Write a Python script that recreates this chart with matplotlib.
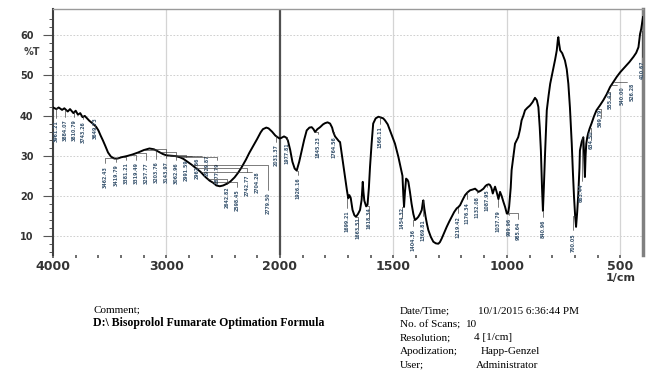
import numpy as np
import matplotlib.pyplot as plt

# spectrum (wavenumber in 1/cm, %T)
wavenumber = [4000, 3970, 3950, 3920, 3900, 3870, 3850, 3820, 3800, 3780, 3760, 3740, 3720, 3700,
              3680, 3650, 3620, 3600, 3580, 3560, 3540, 3515, 3490, 3460, 3430, 3400, 3350, 3300,
              3250, 3200, 3150, 3110, 3070, 3030, 3000, 2960, 2920, 2880, 2850, 2820, 2780, 2740,
              2700, 2660, 2620, 2590, 2560, 2530, 2500, 2470, 2440, 2400, 2370, 2340, 2300, 2270,
              2240, 2200, 2170, 2150, 2120, 2100, 2070, 2040, 2020, 2005, 1995, 1982, 1972, 1965,
              1955, 1945, 1935, 1926, 1915, 1904, 1893, 1882, 1870, 1860, 1852, 1845, 1835, 1823,
              1810, 1801, 1790, 1779, 1770, 1765, 1757, 1750, 1740, 1735, 1728, 1720, 1713, 1705,
              1699, 1694, 1688, 1680, 1672, 1665, 1656, 1647, 1640, 1635, 1632, 1628, 1620, 1614,
              1608, 1603, 1596, 1589, 1578, 1566, 1555, 1545, 1537, 1525, 1515, 1505, 1493, 1478,
              1466, 1460, 1456, 1453, 1449, 1444, 1438, 1434, 1427, 1420, 1412, 1405, 1398, 1390,
              1382, 1375, 1370, 1368, 1364, 1358, 1352, 1346, 1335, 1324, 1313, 1302, 1295, 1287,
              1275, 1265, 1254, 1243, 1232, 1221, 1214, 1206, 1195, 1184, 1173, 1162, 1150, 1140,
              1132, 1125, 1115, 1103, 1095, 1089, 1080, 1074, 1068, 1062, 1057, 1052, 1045, 1037,
              1030, 1023, 1015, 1008, 1000, 994, 990, 983, 979, 971, 964, 957, 950, 942, 935, 927,
              920, 910, 898, 887, 876, 868, 861, 855, 850, 845, 841, 837, 832, 824, 816, 809, 802,
              795, 787, 780, 775, 773, 770, 765, 756, 744, 736, 729, 722, 714, 709, 704, 699, 695,
              690, 685, 680, 678, 670, 663, 660, 656, 653, 650, 646, 642, 635, 627, 616, 605, 590,
              575, 560, 545, 530, 516, 500, 479, 460, 442, 430, 420, 413, 408, 404, 400]
transmittance = [42.0, 41.6, 42.0, 41.4, 41.8, 41.0, 41.6, 40.6, 41.2, 40.2, 40.6, 39.6, 39.9, 39.3,
                 38.7, 38.0, 37.2, 36.3, 35.0, 33.8, 32.5, 30.8, 29.8, 29.3, 29.3, 29.6, 29.9, 30.3,
                 30.8, 31.4, 31.8, 31.6, 31.0, 30.4, 30.1, 30.0, 29.9, 29.6, 29.2, 28.6, 27.8, 26.9,
                 26.0, 24.8, 23.8, 23.3, 22.6, 22.4, 22.6, 23.0, 23.5, 24.6, 25.7, 27.0, 29.0, 30.7,
                 32.2, 34.2, 35.8, 36.6, 37.0, 36.8, 36.0, 35.0, 34.6, 34.3, 34.4, 34.8, 34.5, 33.8,
                 31.5, 28.5, 26.8, 26.3, 28.5, 31.3, 34.0, 36.3, 37.0, 37.1, 36.6, 35.9, 36.6, 37.1,
                 37.8, 38.1, 38.3, 38.0, 37.0, 35.9, 34.8, 34.3, 33.6, 33.4, 30.6, 27.5, 24.7, 21.5,
                 19.4, 20.2, 19.5, 16.5, 15.2, 14.8, 15.5, 16.5, 19.0, 23.5, 21.0, 18.8, 17.4, 17.8,
                 22.0, 27.2, 33.0, 38.0, 39.3, 39.7, 39.5, 39.3, 38.8, 37.8, 36.3, 34.8, 33.0, 29.7,
                 26.5, 25.0, 20.0, 17.3, 21.0, 24.3, 24.0, 23.5, 21.0, 18.1, 15.5, 14.0, 14.3, 14.8,
                 15.6, 16.5, 18.5, 18.9, 17.0, 14.8, 13.0, 11.5, 9.8, 8.6, 8.2, 8.1, 8.5, 9.4,
                 11.0, 12.3, 13.6, 14.8, 16.0, 16.9, 17.2, 17.7, 19.0, 20.2, 20.9, 21.4, 21.6, 21.8,
                 21.4, 21.0, 21.3, 21.8, 22.4, 22.7, 22.9, 22.7, 22.0, 20.6, 21.5, 22.3, 21.0, 19.2,
                 21.0, 20.0, 18.5, 17.3, 15.6, 15.8, 17.3, 22.0, 26.4, 30.0, 33.0, 33.8, 34.6, 36.5,
                 38.8, 40.0, 41.3, 41.9, 42.5, 43.3, 44.4, 43.8, 42.1, 37.0, 31.3, 22.0, 16.3, 22.0,
                 30.0, 41.3, 45.0, 47.9, 49.8, 51.6, 54.0, 56.2, 59.0, 59.5, 58.0, 56.2, 55.5, 53.7,
                 51.5, 47.9, 42.0, 33.0, 26.0, 19.8, 15.0, 12.3, 16.0, 20.6, 27.0, 31.3, 33.5, 34.6,
                 31.0, 24.7, 30.0, 33.0, 34.5, 35.5, 36.8, 38.0, 39.8, 41.3, 42.5, 43.8, 45.3, 47.1,
                 48.4, 49.6, 50.8, 52.1, 53.3, 54.6, 55.6, 57.0, 60.3, 61.5, 63.0, 64.5]

# peak labels: where the label sits, and the point it refers to
label_wn = [3974, 3894, 3815, 3736, 3630,
            3542, 3445, 3357, 3268, 3180, 3092, 3004, 2916, 2828, 2731, 2643, 2554,
            2466, 2378, 2290, 2202, 2105,
            2034, 1969, 1920, 1832, 1760, 1706, 1656, 1608, 1559, 1463, 1414, 1369,
            1215, 1175, 1131, 1087, 1039, 990, 951, 841, 708, 671, 627, 587, 545, 493,
            448, 404]
label_t = [36.0, 36.3, 36.3, 35.8, 36.8,
           24.8, 25.1, 25.6, 25.6, 25.6, 25.9, 25.9, 25.6, 26.4, 26.9, 27.6, 25.6,
           19.7, 18.9, 22.7, 23.4, 18.2,
           30.1, 30.6, 21.9, 32.1, 32.1, 13.6, 12.0, 14.5, 34.6, 14.5, 9.0, 11.5,
           12.3, 15.7, 17.3, 18.9, 13.8, 12.3, 11.2, 11.8, 8.4, 20.7, 34.0, 39.4, 43.9, 45.0,
           46.0, 51.5]
peak_wn = [3960, 3885, 3810, 3745, 3650,
           3465, 3420, 3380, 3320, 3260, 3200, 3140, 3060, 2990, 2960, 2930, 2880,
           2640, 2600, 2740, 2700, 2780,
           2030, 1975, 1926, 1845, 1765, 1699, 1665, 1618, 1566, 1453, 1405, 1368,
           1221, 1173, 1132, 1089, 1037, 1000, 994, 841, 699, 663, 635, 600, 555, 540,
           530, 410]
label_text = ["3961.21", "3884.07", "3810.79", "3743.26", "3649.73",
              "3462.43", "3419.79", "3381.21", "3319.49", "3257.77", "3203.76", "3143.97",
              "3062.96", "2991.59", "2962.66", "2929.87", "2877.79",
              "2642.82", "2598.45", "2742.77", "2704.28", "2779.50",
              "2031.37", "1977.81", "1926.16", "1845.23", "1764.56", "1699.21", "1663.51",
              "1618.34", "1566.11", "1454.32", "1404.36", "1369.81",
              "1219.42", "1176.34", "1132.08", "1087.95", "1037.79", "999.96", "985.64",
              "840.96", "700.05", "663.44", "634.50", "599.79", "555.42", "540.00",
              "526.28", "410.67"]

x_ticks = [4000, 3000, 2000, 1500, 1000, 500]
y_ticks = [10, 20, 30, 40, 50, 60]


def fwd(x):
    x = np.asarray(x, dtype=float)
    return np.where(x <= 2000, x, 2000 + (x - 2000) / 2)


def inv(u):
    u = np.asarray(u, dtype=float)
    return np.where(u <= 2000, u, 2000 + 2 * (u - 2000))


fig = plt.figure(figsize=(6.52, 3.72), dpi=100)
ax = fig.add_axes([53 / 652, 1 - 255 / 372, 590 / 652, 246 / 372])
ax.set_xscale('function', functions=(fwd, inv))
ax.set_xlim(4000, 400)
ax.set_ylim(5.3, 66.5)

# grid
for y in y_ticks:
    ax.axhline(y, color='#c8c8c8', lw=0.6, ls=(0, (2, 2)), zorder=0)
for x in [3000, 1500, 1000, 500]:
    ax.axvline(x, color='#d4d4d4', lw=0.9, zorder=0)
ax.axvline(2000, color='#505050', lw=1.6, zorder=1)

ax.plot(wavenumber, transmittance, color='black', lw=1.4, zorder=3)

wn_rev = np.array(wavenumber[::-1], dtype=float)
t_rev = np.array(transmittance[::-1], dtype=float)
for lw_, lt, pw, txt in zip(label_wn, label_t, peak_wn, label_text):
    py = np.interp(pw, wn_rev, t_rev)
    ax.annotate(txt, xy=(pw, py), xytext=(lw_, lt), rotation=90, ha='center', va='center',
                fontsize=3.4, fontweight='bold', color='#3b5670', zorder=4,
                arrowprops=dict(arrowstyle='-', lw=0.45, color='#333333', shrinkA=0, shrinkB=0,
                                connectionstyle='angle,angleA=90,angleB=0'))

# axes styling
ax.spines['bottom'].set_visible(False)
ax.spines['left'].set_color('#404040')
ax.spines['left'].set_linewidth(1.5)
ax.spines['top'].set_color('#9a9a9a')
ax.spines['top'].set_linewidth(1.0)
ax.spines['right'].set_color('#808080')
ax.spines['right'].set_linewidth(2.5)

ax.set_xticks(x_ticks)
ax.set_xticklabels([str(v) for v in x_ticks], fontsize=9, fontweight='bold', color='#333333')
minor_x = list(range(3800, 2000, -200)) + [v for v in range(1900, 400, -100) if v not in x_ticks]
ax.set_xticks(minor_x, minor=True)
ax.tick_params(axis='x', which='both', direction='out', length=2, width=1.2, color='#555555', pad=1.5)

ax.set_yticks(y_ticks)
ax.set_yticklabels([str(v) for v in y_ticks], fontsize=7, fontweight='bold', color='#333333')
ax.set_yticks(np.arange(6, 66, 2), minor=True)
ax.tick_params(axis='y', which='major', direction='out', length=7, width=0.8, color='#555555', pad=7)
ax.tick_params(axis='y', which='minor', direction='out', length=3, width=0.7, color='#555555')

fig.text(32 / 652, 1 - 52 / 372, '%T', fontsize=7, fontweight='bold', color='#444444',
         ha='center', va='center')
fig.text(621 / 652, 1 - 278 / 372, '1/cm', fontsize=8, fontweight='bold', color='#333333',
         ha='center', va='center')

# footer text
serif = 'Liberation Serif'
fig.text(93 / 652, 1 - 310 / 372, 'Comment;', fontsize=8, family=serif, va='center')
fig.text(93 / 652, 1 - 323 / 372, 'D:\\ Bisoprolol Fumarate Optimation Formula', fontsize=8.5,
         family=serif, fontweight='bold', va='center')
info_keys = ['Date/Time;', 'No. of Scans;', 'Resolution;', 'Apodization;', 'User;']
info_vals = ['10/1/2015 6:36:44 PM', '10', '4 [1/cm]', 'Happ-Genzel', 'Administrator']
info_x = [478, 466, 474, 481, 476]
for i, (k, v, xv) in enumerate(zip(info_keys, info_vals, info_x)):
    yy = 1 - (311 + 13.5 * i) / 372
    fig.text(400 / 652, yy, k, fontsize=8, family=serif, va='center')
    fig.text(xv / 652, yy, v, fontsize=8, family=serif, va='center')

fig.savefig('out.png', dpi=100)
